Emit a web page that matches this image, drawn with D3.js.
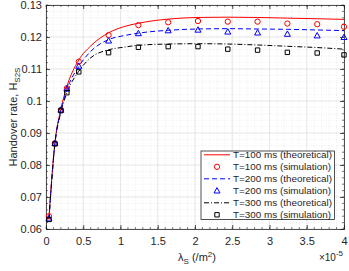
<!DOCTYPE html>
<html lang="en">
<head>
<meta charset="utf-8">
<title>Handover rate</title>
<script src="https://cdn.jsdelivr.net/npm/d3@7"></script>
<style>
  body { margin: 0; background: #fff; }
  text { font-family: "Liberation Sans", Arial, sans-serif; fill: #262626; }
</style>
</head>
<body>
<script>
// density lambda_S (x 1e-5 /m^2)
var lamTheory = [0.04, 0.12, 0.2, 0.28, 0.44, 0.6, 0.84, 1.04, 1.24, 1.64, 2.04, 2.44, 2.84, 3.24, 3.64, 4.0];
var theory100 = [0.0638, 0.0870, 0.0975, 0.1045, 0.1128, 0.1172, 0.1213, 0.1232, 0.1243, 0.1256, 0.1261, 0.1262, 0.1261, 0.1259, 0.1257, 0.1255];
var theory200 = [0.0632, 0.0868, 0.0970, 0.1035, 0.1108, 0.1155, 0.1192, 0.1204, 0.1212, 0.1221, 0.1225, 0.1226, 0.1225, 0.1224, 0.1222, 0.1220];
var theory300 = [0.0630, 0.0866, 0.0965, 0.1025, 0.1093, 0.1135, 0.1160, 0.1168, 0.1174, 0.1178, 0.1179, 0.1178, 0.1175, 0.1171, 0.1167, 0.1162];

var lamSim = [0.04, 0.12, 0.2, 0.28, 0.44, 0.84, 1.24, 1.64, 2.04, 2.44, 2.84, 3.24, 3.64, 4.0];
var sim100 = [0.0640, 0.0868, 0.0972, 0.1040, 0.1123, 0.1206, 0.1237, 0.1246, 0.1250, 0.1248, 0.1248, 0.1242, 0.1240, 0.1232];
var sim200 = [0.0632, 0.0868, 0.0972, 0.1038, 0.1109, 0.1188, 0.1211, 0.1220, 0.1222, 0.1216, 0.1213, 0.1209, 0.1204, 0.1199];
var sim300 = [0.0630, 0.0866, 0.0970, 0.1026, 0.1091, 0.1151, 0.1168, 0.1170, 0.1170, 0.1162, 0.1159, 0.1152, 0.1150, 0.1144];

var xTicks = [0, 0.5, 1, 1.5, 2, 2.5, 3, 3.5, 4];
var yTicks = [0.06, 0.07, 0.08, 0.09, 0.1, 0.11, 0.12, 0.13];
var legendLabels = ["T=100 ms (theoretical)", "T=100 ms (simulation)", "T=200 ms (theoretical)",
                    "T=200 ms (simulation)", "T=300 ms (theoretical)", "T=300 ms (simulation)"];

var w = 349, h = 271;
var margin = {top: 5, right: 5, bottom: 42, left: 46};
var iw = w - margin.left - margin.right;
var ih = h - margin.top - margin.bottom;

var svg = d3.select("body").append("svg").attr("width", w).attr("height", h);
var g = svg.append("g").attr("transform", "translate(" + margin.left + "," + margin.top + ")");

var x = d3.scaleLinear().domain([0, 4]).range([0, iw]);
var y = d3.scaleLinear().domain([0.06, 0.13]).range([ih, 0]);

// minor grid
var xMinor = d3.range(0, 4.0001, 0.1);
var yMinor = d3.range(0.06, 0.13001, 0.002);
g.append("g").selectAll("line").data(xMinor).enter().append("line")
  .attr("x1", function(d) { return x(d); }).attr("x2", function(d) { return x(d); })
  .attr("y1", 0).attr("y2", ih)
  .attr("stroke", "#e4e4e4").attr("stroke-width", 0.6).attr("stroke-dasharray", "1,1.5");
g.append("g").selectAll("line").data(yMinor).enter().append("line")
  .attr("y1", function(d) { return y(d); }).attr("y2", function(d) { return y(d); })
  .attr("x1", 0).attr("x2", iw)
  .attr("stroke", "#e4e4e4").attr("stroke-width", 0.6).attr("stroke-dasharray", "1,1.5");

// major grid
g.append("g").selectAll("line").data(xTicks).enter().append("line")
  .attr("x1", function(d) { return x(d); }).attr("x2", function(d) { return x(d); })
  .attr("y1", 0).attr("y2", ih)
  .attr("stroke", "#dcdcdc").attr("stroke-width", 0.6);
g.append("g").selectAll("line").data(yTicks).enter().append("line")
  .attr("y1", function(d) { return y(d); }).attr("y2", function(d) { return y(d); })
  .attr("x1", 0).attr("x2", iw)
  .attr("stroke", "#dcdcdc").attr("stroke-width", 0.6);

// axes
var xAxis = d3.axisBottom(x).tickValues(xTicks).tickSize(-4).tickPadding(8).tickFormat(d3.format("~g"));
var yAxis = d3.axisLeft(y).tickValues(yTicks).tickSize(-4).tickPadding(4).tickFormat(d3.format("~g"));
var xAxisTop = d3.axisTop(x).tickValues(xTicks).tickSize(-4).tickFormat("");
var yAxisRight = d3.axisRight(y).tickValues(yTicks).tickSize(-4).tickFormat("");

function styleAxis(sel) {
  sel.selectAll(".domain").attr("stroke", "#262626").attr("stroke-width", 0.8);
  sel.selectAll(".tick line").attr("stroke", "#262626").attr("stroke-width", 0.8);
  sel.selectAll("text").attr("font-size", "11px").attr("fill", "#262626")
    .attr("font-family", "'Liberation Sans', Arial, sans-serif");
}
g.append("g").attr("transform", "translate(0," + ih + ")").call(xAxis).call(styleAxis);
g.append("g").call(yAxis).call(styleAxis);
g.append("g").call(xAxisTop).call(styleAxis);
g.append("g").attr("transform", "translate(" + iw + ",0)").call(yAxisRight).call(styleAxis);

// minor ticks
g.append("g").selectAll("line").data(xMinor).enter().append("line")
  .attr("x1", function(d) { return x(d); }).attr("x2", function(d) { return x(d); })
  .attr("y1", ih).attr("y2", ih - 2).attr("stroke", "#262626").attr("stroke-width", 0.6);
g.append("g").selectAll("line").data(xMinor).enter().append("line")
  .attr("x1", function(d) { return x(d); }).attr("x2", function(d) { return x(d); })
  .attr("y1", 0).attr("y2", 2).attr("stroke", "#262626").attr("stroke-width", 0.6);
g.append("g").selectAll("line").data(yMinor).enter().append("line")
  .attr("y1", function(d) { return y(d); }).attr("y2", function(d) { return y(d); })
  .attr("x1", 0).attr("x2", 2).attr("stroke", "#262626").attr("stroke-width", 0.6);
g.append("g").selectAll("line").data(yMinor).enter().append("line")
  .attr("y1", function(d) { return y(d); }).attr("y2", function(d) { return y(d); })
  .attr("x1", iw).attr("x2", iw - 2).attr("stroke", "#262626").attr("stroke-width", 0.6);

// series
var series = [
  {theory: theory100, sim: sim100, color: "#ff0000", dash: null, marker: "circle"},
  {theory: theory200, sim: sim200, color: "#0000ff", dash: "5,3", marker: "triangle"},
  {theory: theory300, sim: sim300, color: "#000000", dash: "5,2,1,2", marker: "square"}
];

var line = d3.line()
  .x(function(d) { return x(d[0]); })
  .y(function(d) { return y(d[1]); })
  .curve(d3.curveMonotoneX);

function markerPath(type) {
  if (type === "circle") return d3.symbol().type(d3.symbolCircle).size(22)();
  if (type === "triangle") return "M0,-3.2L3,2.2L-3,2.2Z";
  return "M-2.2,-2.2H2.2V2.2H-2.2Z";
}

series.forEach(function(s) {
  g.append("path")
    .datum(lamTheory.map(function(l, i) { return [l, s.theory[i]]; }))
    .attr("d", line)
    .attr("fill", "none")
    .attr("stroke", s.color)
    .attr("stroke-width", 1)
    .attr("stroke-dasharray", s.dash);
});

series.forEach(function(s) {
  g.append("g").selectAll("path")
    .data(lamSim.map(function(l, i) { return [l, s.sim[i]]; }))
    .enter().append("path")
    .attr("d", markerPath(s.marker))
    .attr("transform", function(d) { return "translate(" + x(d[0]) + "," + y(d[1]) + ")"; })
    .attr("fill", "none")
    .attr("stroke", s.color)
    .attr("stroke-width", 1);
});

// legend
var lg = svg.append("g").attr("transform", "translate(201,151)");
lg.append("rect").attr("width", 133.5).attr("height", 68.5)
  .attr("fill", "#fff").attr("stroke", "#262626").attr("stroke-width", 0.8);
legendLabels.forEach(function(label, i) {
  var s = series[Math.floor(i / 2)];
  var yy = 3.8 + 12 * i;
  if (i % 2 === 0) {
    lg.append("line").attr("x1", 3).attr("x2", 29).attr("y1", yy).attr("y2", yy)
      .attr("stroke", s.color).attr("stroke-width", 1).attr("stroke-dasharray", s.dash);
  } else {
    lg.append("path").attr("d", markerPath(s.marker))
      .attr("transform", "translate(16," + yy + ")")
      .attr("fill", "none").attr("stroke", s.color).attr("stroke-width", 1);
  }
  lg.append("text").attr("x", 32).attr("y", yy).attr("dy", "0.35em")
    .attr("font-size", "9.9px").text(label);
});

// axis labels
var yl = svg.append("text")
  .attr("transform", "translate(17," + (margin.top + ih / 2) + ") rotate(-90)")
  .attr("text-anchor", "middle").attr("font-size", "11px");
yl.append("tspan").text("Handover rate, H");
yl.append("tspan").attr("font-size", "8px").attr("dy", "3").text("S2S");

var xl = svg.append("text")
  .attr("x", margin.left + iw / 2 + 2).attr("y", 261)
  .attr("text-anchor", "middle").attr("font-size", "11px");
xl.append("tspan").text("\u03bb");
xl.append("tspan").attr("font-size", "8px").attr("dy", "3").text("S");
xl.append("tspan").attr("dy", "-3").text(" (/m");
xl.append("tspan").attr("font-size", "8px").attr("dy", "-4").text("2");
xl.append("tspan").attr("dy", "4").text(")");

var ex = svg.append("text").attr("x", 343).attr("y", 261)
  .attr("text-anchor", "end").attr("font-size", "10px");
ex.append("tspan").text("\u00d710");
ex.append("tspan").attr("font-size", "8px").attr("dy", "-5").text("-5");
</script>
</body>
</html>
